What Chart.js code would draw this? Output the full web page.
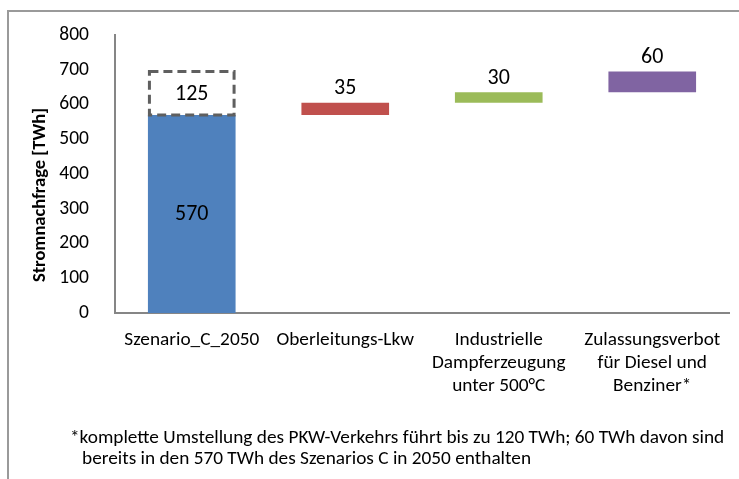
<!DOCTYPE html>
<html>
<head>
<meta charset="utf-8">
<script src="https://cdn.jsdelivr.net/npm/chart.js@4/dist/chart.umd.min.js"></script>
<style>
  html, body { margin: 0; padding: 0; background: #fff; }
  #wrap { position: relative; width: 739px; height: 479px; overflow: hidden; font-family: Carlito, Lato, sans-serif; }
  #frame { position: absolute; left: 7px; top: 10px; width: 760px; height: 500px; border-left: 2px solid #9a9a9a; border-top: 2px solid #9a9a9a; box-sizing: border-box; }
  canvas { position: absolute; left: 0; top: 0; }
  .note { position: absolute; font-size: 19.3px; color: #000; white-space: nowrap; line-height: 22px; }
</style>
</head>
<body>
<div id="wrap">
  <div id="frame"></div>
  <canvas id="c" width="739" height="479"></canvas>
  <div class="note" id="n1" style="left:70px; top:426px;">*komplette Umstellung des PKW-Verkehrs führt bis zu 120 TWh; 60 TWh davon sind</div>
  <div class="note" id="n2" style="left:82px; top:447px;">bereits in den 570 TWh des Szenarios C in 2050 enthalten</div>
</div>
<script>
// ---- data ----
const categories = [
  ['Szenario_C_2050'],
  ['Oberleitungs-Lkw'],
  ['Industrielle', 'Dampferzeugung', 'unter 500°C'],
  ['Zulassungsverbot', 'für Diesel und', 'Benziner*']
];
const increments = [570, 35, 30, 60];
const potentialLabel = 125;          // dashed box on top of the scenario bar
const potentialBase = 570;
const potentialTop = 695;
const yTicks = [0, 100, 200, 300, 400, 500, 600, 700, 800];
const yTitle = 'Stromnachfrage [TWh]';
const barColors = ['#4F81BD', '#C0504D', '#9BBB59', '#8064A2'];

// floating bars for the waterfall
const floating = [];
let run = 0;
for (const v of increments) { floating.push([run, run + v]); run += v; }
const potentialBars = [[potentialBase, potentialTop], null, null, null];

const FONT = 'Carlito, Lato, sans-serif';

const labelPlugin = {
  id: 'labels',
  afterDatasetsDraw(chart) {
    const ctx = chart.ctx;
    // dashed box
    const pm = chart.getDatasetMeta(1);
    const pb = pm.data[0];
    if (pb) {
      const left = pb.x - pb.width / 2, right = pb.x + pb.width / 2;
      ctx.save();
      ctx.strokeStyle = '#5f5f5f';
      ctx.lineWidth = 3;
      ctx.setLineDash([9, 5]);
      ctx.strokeRect(left + 1.5, pb.y, right - left - 3, pb.base - pb.y);
      ctx.restore();
      ctx.save();
      ctx.font = '22px ' + FONT;
      ctx.fillStyle = '#000';
      ctx.textAlign = 'center';
      ctx.textBaseline = 'middle';
      ctx.fillText(String(potentialLabel), pb.x, (pb.y + pb.base) / 2 + 1);
      ctx.restore();
    }
    const meta = chart.getDatasetMeta(0);
    ctx.save();
    ctx.font = '22px ' + FONT;
    ctx.fillStyle = '#000';
    ctx.textAlign = 'center';
    ctx.textBaseline = 'middle';
    meta.data.forEach((el, i) => {
      const txt = String(increments[i]);
      if (i === 0) {
        ctx.fillText(txt, el.x, (el.y + el.base) / 2 + 1);
      } else {
        ctx.fillText(txt, el.x, el.y - 14);
      }
    });
    ctx.restore();
    // y-axis title
    ctx.save();
    ctx.font = 'bold 18.5px ' + FONT;
    ctx.fillStyle = '#000';
    ctx.textAlign = 'center';
    ctx.textBaseline = 'middle';
    ctx.translate(40, 195);
    ctx.rotate(-Math.PI / 2);
    ctx.fillText(yTitle, 0, 0);
    ctx.restore();
  }
};

new Chart(document.getElementById('c'), {
  type: 'bar',
  data: {
    labels: categories,
    datasets: [
      {
        data: floating,
        backgroundColor: barColors,
        borderWidth: 0,
        grouped: false,
        categoryPercentage: 1,
        barPercentage: 0.571,
        order: 1
      },
      {
        data: potentialBars,
        backgroundColor: 'rgba(0,0,0,0)',
        borderWidth: 0,
        grouped: false,
        categoryPercentage: 1,
        barPercentage: 0.571,
        order: 0
      }
    ]
  },
  options: {
    responsive: false,
    animation: false,
    devicePixelRatio: 1,
    layout: { padding: { left: 0, right: 10, top: 35, bottom: 0 } },
    plugins: { legend: { display: false }, tooltip: { enabled: false }, title: { display: false } },
    scales: {
      x: {
        grid: { display: false },
        border: { display: true, color: '#868686', width: 2 },
        ticks: {
          color: '#000',
          font: { family: FONT, size: 19.3, lineHeight: 23 / 19.3 },
          padding: 8,
          maxRotation: 0,
          autoSkip: false
        },
        afterFit(scale) { scale.height = 166; }
      },
      y: {
        min: 0,
        max: 800,
        afterBuildTicks(scale) { scale.ticks = yTicks.map(v => ({ value: v })); },
        grid: { display: false },
        border: { display: true, color: '#868686', width: 2 },
        ticks: {
          color: '#000',
          font: { family: FONT, size: 19.5 },
          padding: 18
        },
        afterFit(scale) { scale.width = 115; }
      }
    }
  },
  plugins: [labelPlugin]
});
</script>
</body>
</html>
